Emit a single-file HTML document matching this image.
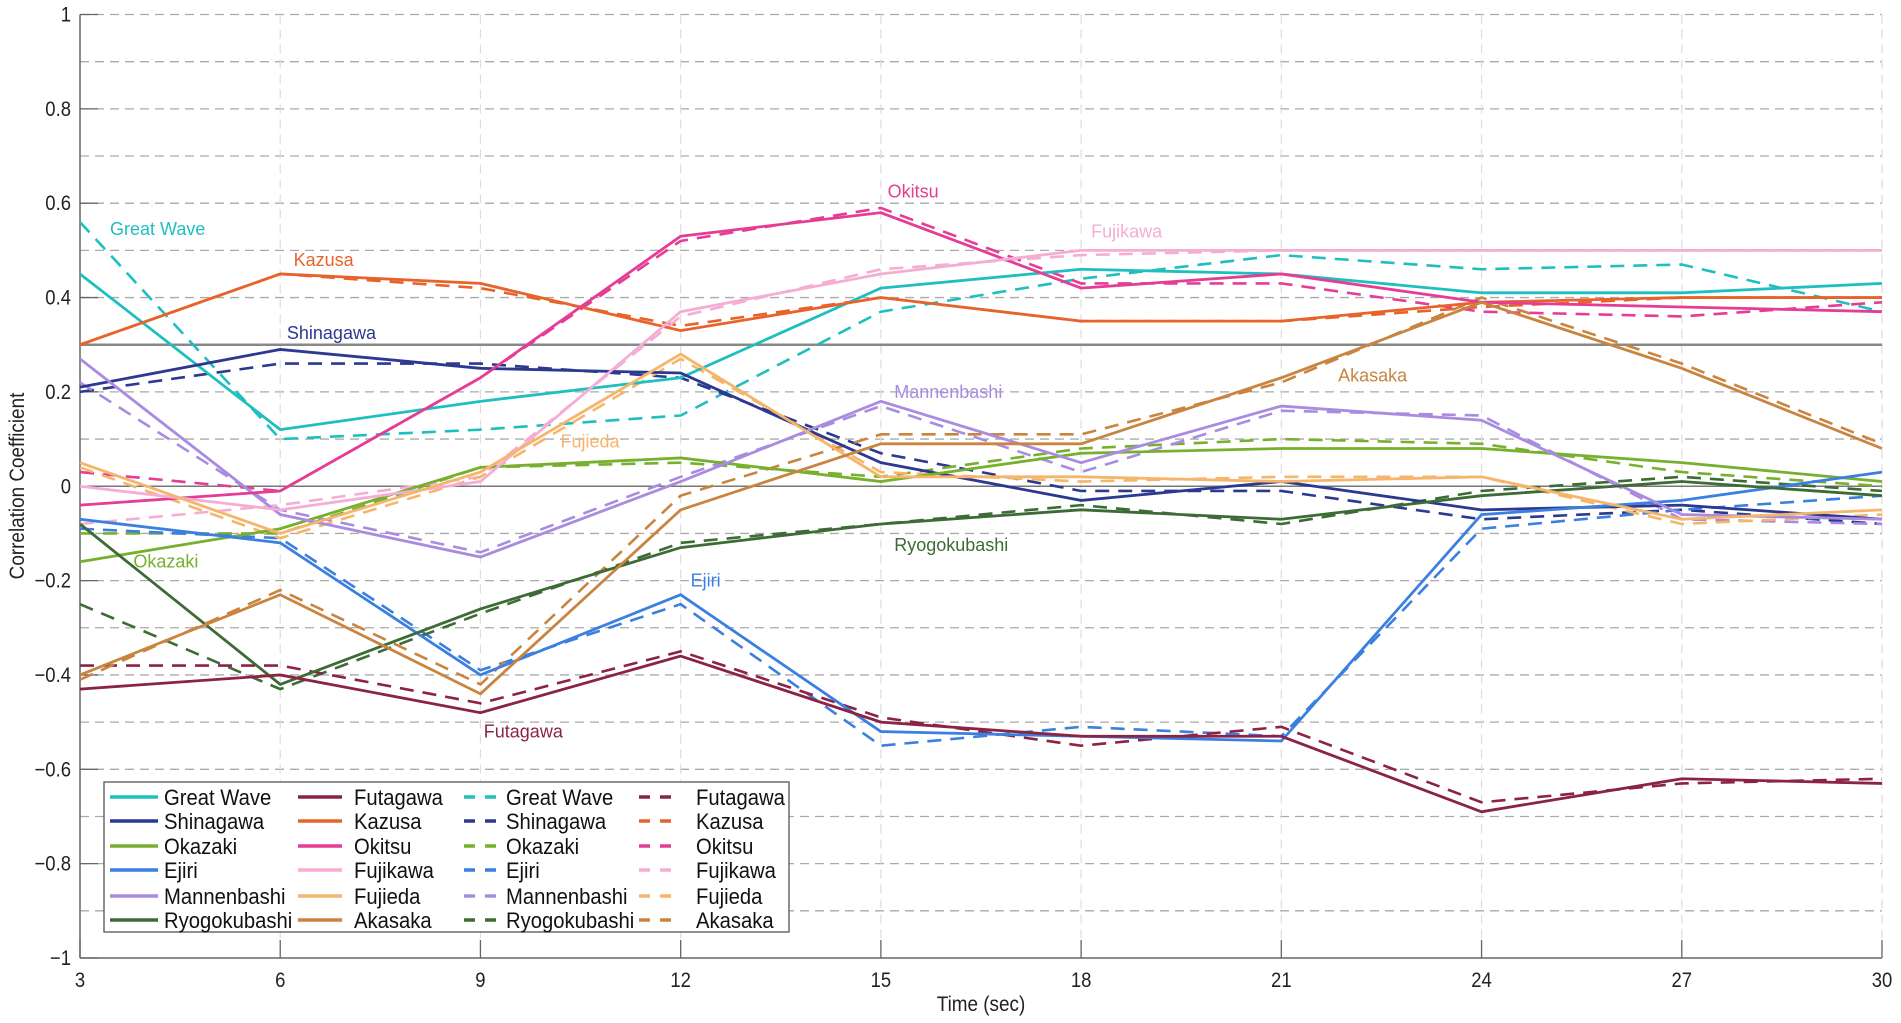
<!DOCTYPE html>
<html><head><meta charset="utf-8"><style>
html,body{margin:0;padding:0;background:#fff;}
svg{display:block;font-family:"Liberation Sans","Noto Sans CJK JP",sans-serif;}
</style></head><body>
<svg id="chart" width="1901" height="1023"></svg>
<script>
const xTicks=[3,6,9,12,15,18,21,24,27,30];
const yTickLabels=["1","0.8","0.6","0.4","0.2","0","\u22120.2","\u22120.4","\u22120.6","\u22120.8","\u22121"];
const yTickValues=[1,0.8,0.6,0.4,0.2,0,-0.2,-0.4,-0.6,-0.8,-1];
const names=["Great Wave","Shinagawa","Okazaki","Ejiri","Mannenbashi","Ryogokubashi","Futagawa","Kazusa","Okitsu","Fujikawa","Fujieda","Akasaka"];
const colors=["#1fbfbf","#2b3990","#77b02f","#3b7fe0","#a98be0","#3d6b35","#8b2344","#e8632a","#e53c96","#f5aed3","#f5b56b","#c98540"];
const solidGreatWave=[0.45,0.12,0.18,0.23,0.42,0.46,0.45,0.41,0.41,0.43];
const solidShinagawa=[0.21,0.29,0.25,0.24,0.05,-0.03,0.01,-0.05,-0.04,-0.07];
const solidOkazaki=[-0.16,-0.09,0.04,0.06,0.01,0.07,0.08,0.08,0.05,0.01];
const solidEjiri=[-0.07,-0.12,-0.40,-0.23,-0.52,-0.53,-0.54,-0.06,-0.03,0.03];
const solidMannenbashi=[0.27,-0.06,-0.15,0.01,0.18,0.05,0.17,0.14,-0.06,-0.07];
const solidRyogokubashi=[-0.08,-0.42,-0.26,-0.13,-0.08,-0.05,-0.07,-0.02,0.01,-0.02];
const solidFutagawa=[-0.43,-0.40,-0.48,-0.36,-0.50,-0.53,-0.53,-0.69,-0.62,-0.63];
const solidKazusa=[0.30,0.45,0.43,0.33,0.40,0.35,0.35,0.39,0.40,0.40];
const solidOkitsu=[-0.04,-0.01,0.23,0.53,0.58,0.42,0.45,0.39,0.38,0.37];
const solidFujikawa=[0.00,-0.05,0.01,0.37,0.45,0.50,0.50,0.50,0.50,0.50];
const solidFujieda=[0.05,-0.10,0.03,0.28,0.02,0.02,0.01,0.02,-0.07,-0.05];
const solidAkasaka=[-0.40,-0.23,-0.44,-0.05,0.09,0.09,0.23,0.39,0.25,0.08];
const dashGreatWave=[0.56,0.10,0.12,0.15,0.37,0.44,0.49,0.46,0.47,0.37];
const dashShinagawa=[0.20,0.26,0.26,0.23,0.07,-0.01,-0.01,-0.07,-0.05,-0.08];
const dashOkazaki=[-0.10,-0.10,0.04,0.05,0.02,0.08,0.10,0.09,0.03,0.00];
const dashEjiri=[-0.09,-0.11,-0.39,-0.25,-0.55,-0.51,-0.53,-0.09,-0.05,-0.02];
const dashMannenbashi=[0.22,-0.05,-0.14,0.02,0.17,0.03,0.16,0.15,-0.07,-0.08];
const dashRyogokubashi=[-0.25,-0.43,-0.27,-0.12,-0.08,-0.04,-0.08,-0.01,0.02,-0.01];
const dashFutagawa=[-0.38,-0.38,-0.46,-0.35,-0.49,-0.55,-0.51,-0.67,-0.63,-0.62];
const dashKazusa=[0.30,0.45,0.42,0.34,0.40,0.35,0.35,0.38,0.40,0.40];
const dashOkitsu=[0.03,-0.01,0.23,0.52,0.59,0.43,0.43,0.37,0.36,0.39];
const dashFujikawa=[-0.08,-0.04,0.02,0.36,0.46,0.49,0.50,0.50,0.50,0.50];
const dashFujieda=[0.04,-0.11,0.02,0.27,0.03,0.01,0.02,0.02,-0.08,-0.06];
const dashAkasaka=[-0.41,-0.22,-0.42,-0.02,0.11,0.11,0.22,0.40,0.26,0.09];
const solidSeries=[solidGreatWave,solidShinagawa,solidOkazaki,solidEjiri,solidMannenbashi,solidRyogokubashi,solidFutagawa,solidKazusa,solidOkitsu,solidFujikawa,solidFujieda,solidAkasaka];
const dashSeries=[dashGreatWave,dashShinagawa,dashOkazaki,dashEjiri,dashMannenbashi,dashRyogokubashi,dashFutagawa,dashKazusa,dashOkitsu,dashFujikawa,dashFujieda,dashAkasaka];
const labelNames=["Great Wave","Kazusa","Shinagawa","Okitsu","Fujikawa","Fujieda","Mannenbashi","Akasaka","Okazaki","Ryogokubashi","Ejiri","Futagawa"];
const labelSeriesIdx=[0,7,1,8,9,10,4,11,2,5,3,6];
const labelT=[3.45,6.2,6.1,15.1,18.15,10.2,15.2,21.85,3.8,15.2,12.15,9.05];
const labelV=[0.545,0.48,0.325,0.625,0.54,0.095,0.2,0.235,-0.16,-0.125,-0.2,-0.52];

const NS="http://www.w3.org/2000/svg";
const svg=document.getElementById('chart');
const X0=80,X1=1882,Y0=958,Y1=14.5;
function sx(t){return X0+(t-3)/(30-3)*(X1-X0);}
function sy(v){return Y0-(v+1)/2*(Y0-Y1);}
function mk(tag,attrs,parent){const e=document.createElementNS(NS,tag);for(const k in attrs)e.setAttribute(k,attrs[k]);(parent||svg).appendChild(e);return e;}
function condense(t,f){const L=t.getComputedTextLength();if(L>0){t.setAttribute('textLength',L*f);t.setAttribute('lengthAdjust','spacingAndGlyphs');}}

const grid=mk('g',{});


for(let i=-9;i<=10;i++){const v=i/10;if(i===0||i===-10)continue;
  mk('line',{x1:X0,x2:X1,y1:sy(v),y2:sy(v),stroke:'#aaa','stroke-width':1.3,'stroke-dasharray':'9,6'},grid);}
xTicks.forEach(t=>{if(t===3)return;mk('line',{x1:sx(t),x2:sx(t),y1:Y1,y2:Y0,stroke:'#ddd','stroke-width':1.2,'stroke-dasharray':'9,6'},grid);});
mk('line',{x1:X0,x2:X1,y1:sy(0),y2:sy(0),stroke:'#777','stroke-width':1.5},grid);
mk('line',{x1:X0,x2:X1,y1:sy(0.3),y2:sy(0.3),stroke:'#888','stroke-width':2.5},grid);

const axes=mk('g',{});


mk('line',{x1:X0,x2:X0,y1:Y1,y2:Y0,stroke:'#666','stroke-width':1.5},axes);
mk('line',{x1:X0,x2:X1,y1:Y0,y2:Y0,stroke:'#666','stroke-width':1.5},axes);
xTicks.forEach(t=>{
  mk('line',{x1:sx(t),x2:sx(t),y1:Y0,y2:Y0-18,stroke:'#666','stroke-width':1.3},axes);
  const tx=mk('text',{x:sx(t),y:Y0+29,'font-size':21,'text-anchor':'middle',fill:'#222'},axes);
  tx.textContent=t;
  
  
  condense(tx,0.88);
});
yTickValues.forEach((v,i)=>{
  mk('line',{x1:X0,x2:X0+18,y1:sy(v),y2:sy(v),stroke:'#666','stroke-width':1.3},axes);
  const tx=mk('text',{x:X0-9,y:sy(v)+7,'font-size':21,'text-anchor':'end',fill:'#222'},axes);
  tx.textContent=yTickLabels[i];
  
  
  condense(tx,0.88);
});
const xt=mk('text',{x:981,y:1011,'font-size':21,'text-anchor':'middle',fill:'#222'});
xt.textContent='Time (sec)';


condense(xt,0.9);
const yt=mk('text',{x:24,y:486,'font-size':21,'text-anchor':'middle',fill:'#222',transform:'rotate(-90 24 486)'});
yt.textContent='Correlation Coefficient';


condense(yt,0.9);

function pts(arr){return arr.map((v,i)=>sx(xTicks[i])+','+sy(v)).join(' ');}
dashSeries.forEach((arr,i)=>{
  const p=mk('polyline',{points:pts(arr),fill:'none',stroke:colors[i],'stroke-width':2.6,'stroke-dasharray':'14,9'});
  
  
});
solidSeries.forEach((arr,i)=>{
  const p=mk('polyline',{points:pts(arr),fill:'none',stroke:colors[i],'stroke-width':2.8});
  
  
});
labelNames.forEach((n,i)=>{
  const tx=mk('text',{x:sx(labelT[i]),y:sy(labelV[i])+6,'font-size':18,fill:colors[labelSeriesIdx[i]]});
  tx.textContent=n;
  
  
});

const lg=mk('g',{});


mk('rect',{x:104,y:782,width:685,height:150,fill:'#fff',stroke:'#555','stroke-width':1.3},lg);
const rowsY=[797,821,846,870,896,920];
const colLineX=[[110,158],[298,342],[464,497],[639,677]];
const colTextX=[164,354,506,696];
for(let c=0;c<4;c++){for(let r=0;r<6;r++){
  const idx=(c%2)*6+r;const dashed=c>=2;const y=rowsY[r];
  mk('line',{x1:colLineX[c][0],x2:colLineX[c][1],y1:y,y2:y,stroke:colors[idx],'stroke-width':3.5,'stroke-dasharray':dashed?'11,10':'none'},lg);
  const tx=mk('text',{x:colTextX[c],y:y+8,'font-size':22,fill:'#111'},lg);
  tx.textContent=names[idx];
  
  
  condense(tx,0.92);
}}
</script>
</body></html>
